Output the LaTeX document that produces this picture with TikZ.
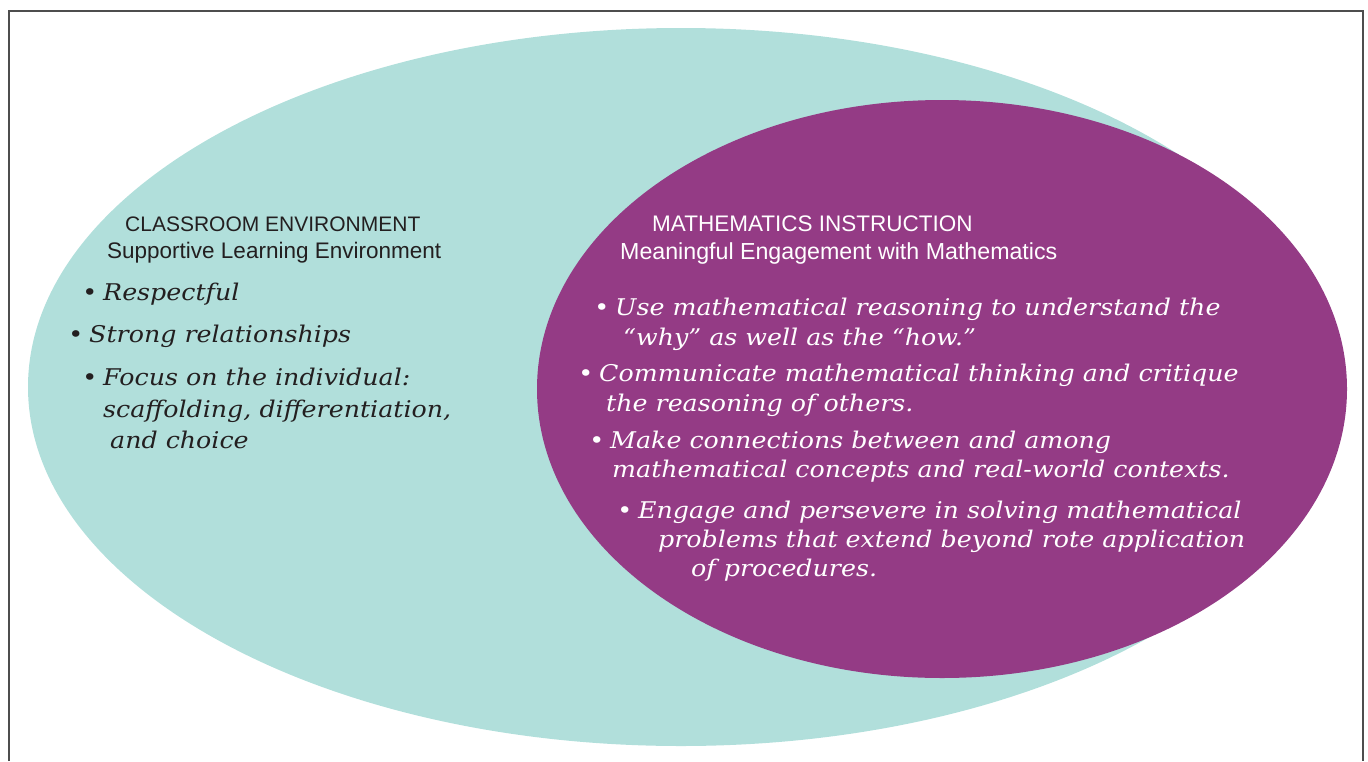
\documentclass[tikz,border=0pt]{standalone}
\usepackage{fontspec}
\setmainfont{DejaVu Serif}
\setsansfont{Liberation Sans}
\newfontfamily\itemfont{DejaVu Serif}[FakeStretch=1.1]
\usepackage{xcolor}
\usetikzlibrary{positioning}

\definecolor{envteal}{HTML}{B1DFDB}
\definecolor{mathpurple}{HTML}{943B85}
\definecolor{envtext}{HTML}{231F20}
\definecolor{framegray}{HTML}{4D4D4D}

\newcommand{\mbul}{\llap{•\hspace{6pt}}}

\begin{document}
\begin{tikzpicture}[x=1pt,y=-1pt,
		head/.style={anchor=base west,inner sep=0pt,font=\sffamily\fontsize{21}{21}\selectfont},
		subhead/.style={head,font=\sffamily\fontsize{22.5}{22.5}\selectfont},
		item/.style={anchor=base west,inner sep=0pt,font=\itemfont\itshape\fontsize{23}{23}\selectfont}]
			\useasboundingbox (0,0) rectangle (1368,761);
			\draw[framegray, line width=1.2pt] (9,761) -- (9,11) -- (1363,11) -- (1363,761);
			
			\fill[envteal] (681,387) ellipse [x radius=653pt, y radius=359pt];
			\fill[mathpurple] (942,389) ellipse [x radius=405pt, y radius=289pt];
			
			\node[head, text=envtext] (envhead) at (125,231) {CLASSROOM ENVIRONMENT};
			\node[subhead, text=envtext] (envsub) at (107,258) {Supportive Learning Environment};
			\node[item, text=envtext] (envresp) at (103,300) {\mbul Respectful};
			\node[item, text=envtext] (envrel) at (89,342) {\mbul Strong relationships};
			\node[item, text=envtext] (envfocus) at (103,385) {\mbul Focus on the individual:};
			\node[item, text=envtext] (envfocusb) at (103,417) {scaffolding, differentiation,};
			\node[item, text=envtext] (envfocusc) at (110,448) {and choice};
			
			\node[head, text=white, font=\sffamily\fontsize{22.5}{22.5}\selectfont] (mathhead) at (652,231) {MATHEMATICS INSTRUCTION};
			\node[subhead, text=white, font=\sffamily\fontsize{23.2}{23.2}\selectfont] (mathsub) at (620,259) {Meaningful Engagement with Mathematics};
			\node[item, text=white] (mathreason) at (615,315) {\mbul Use mathematical reasoning to understand the};
			\node[item, text=white] (mathreasonb) at (623,345) {“why” as well as the “how.”};
			\node[item, text=white] (mathcomm) at (599,381) {\mbul Communicate mathematical thinking and critique};
			\node[item, text=white] (mathcommb) at (606,411) {the reasoning of others.};
			\node[item, text=white] (mathconn) at (610,448) {\mbul Make connections between and among};
			\node[item, text=white] (mathconnb) at (612,477) {mathematical concepts and real-world contexts.};
			\node[item, text=white] (mathengage) at (638,518) {\mbul Engage and persevere in solving mathematical};
			\node[item, text=white] (mathengageb) at (658,547) {problems that extend beyond rote application};
			\node[item, text=white] (mathengagec) at (691,576) {of procedures.};
		\end{tikzpicture}
\end{document}
